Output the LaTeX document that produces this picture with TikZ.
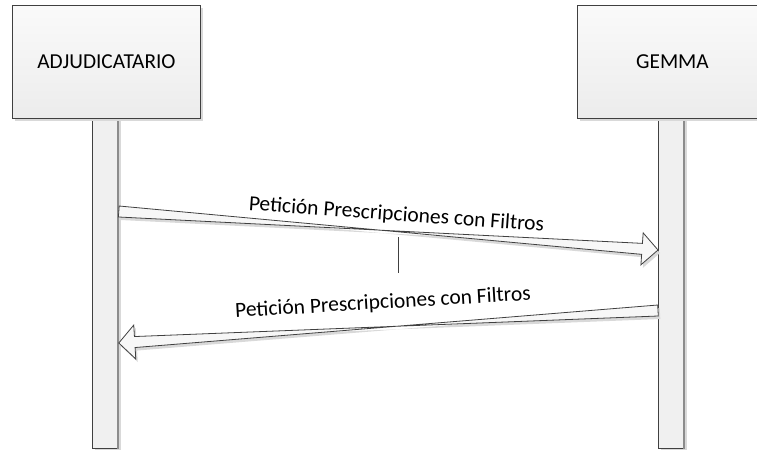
\documentclass[tikz,border=0pt]{standalone}
\usepackage{fontspec}
\setmainfont{Carlito}
\usetikzlibrary{calc,shadows}
\definecolor{edge}{HTML}{404040}
\definecolor{boxtop}{HTML}{FAFAFA}
\definecolor{boxbot}{HTML}{ECECEC}
\definecolor{lifefill}{HTML}{F0F0F0}
\definecolor{shade}{HTML}{D9D9D9}
\tikzset{
  x=1pt, y=-1pt,
  actor/.style={draw=edge, line width=0.9pt, top color=boxtop, bottom color=boxbot,
    minimum width=188pt, minimum height=113pt, inner sep=0pt, anchor=north west,
    font=\fontsize{21.3}{24}\selectfont,
    drop shadow={shadow xshift=3pt, shadow yshift=-3pt, fill=shade, opacity=1}},
  lifeline/.style={draw=edge, line width=0.8pt, fill=lifefill,
    minimum width=26pt, inner sep=0pt, anchor=north west,
    drop shadow={shadow xshift=2.5pt, shadow yshift=-2pt, fill=shade, opacity=1}},
  blockarrow/.style={draw=edge, line width=0.8pt, fill=white!97!black, line join=miter,
    drop shadow={shadow xshift=2pt, shadow yshift=-3pt, fill=shade, opacity=1}},
  msg/.style={font=\fontsize{21.5}{24}\selectfont, inner sep=0pt},
}
\begin{document}
\begin{tikzpicture}
\useasboundingbox (0,0) rectangle (757,450);
% lifelines
\node[lifeline, minimum height=330pt] (ll) at (92,118) {};
\node[lifeline, minimum height=330pt] (rl) at (658,118) {};
\draw[black!45, line width=2pt] ([xshift=-1pt]ll.north east) -- ([xshift=-1pt]ll.south east);
\draw[black!45, line width=2pt] ([xshift=-1pt]rl.north east) -- ([xshift=-1pt]rl.south east);
% actor boxes
\node[actor] (adj) at (12,5) {ADJUDICATARIO};
\node[actor, minimum width=190pt] (gem) at (577,5) {GEMMA};
% arrow 1
\coordinate (a1s) at (ll.east |- 0,211.5);
\coordinate (a1e) at (rl.west |- 0,250);
\coordinate (a1b) at ($(a1e)!16pt!(a1s)$);
\draw[blockarrow]
  ($(a1s)!5.5pt!90:(a1e)$) -- ($(a1b)!5.5pt!-90:(a1e)$) -- ($(a1b)!16pt!-90:(a1e)$)
  -- (a1e) -- ($(a1b)!16pt!90:(a1e)$) -- ($(a1b)!5.5pt!90:(a1e)$)
  -- ($(a1s)!5.5pt!-90:(a1e)$) -- cycle;
% arrow 2
\coordinate (a2s) at (rl.west |- 0,310.5);
\coordinate (a2e) at (ll.east |- 0,343);
\coordinate (a2b) at ($(a2e)!16pt!(a2s)$);
\draw[blockarrow]
  ($(a2s)!5.5pt!90:(a2e)$) -- ($(a2b)!5.5pt!-90:(a2e)$) -- ($(a2b)!17pt!-90:(a2e)$)
  -- (a2e) -- ($(a2b)!17pt!90:(a2e)$) -- ($(a2b)!5.5pt!90:(a2e)$)
  -- ($(a2s)!5.5pt!-90:(a2e)$) -- cycle;
% labels
\node[msg, rotate=-4.1] (m1) at (396.5,215) {Petición Prescripciones con Filtros};
\node[msg, rotate=3.4] (m2) at (383,303) {Petición Prescripciones con Filtros};
% small tick
\coordinate (t1) at (398,237);
\coordinate (t2) at (398,273);
\draw[edge, line width=0.8pt] (t1) -- (t2);
\end{tikzpicture}
\end{document}
